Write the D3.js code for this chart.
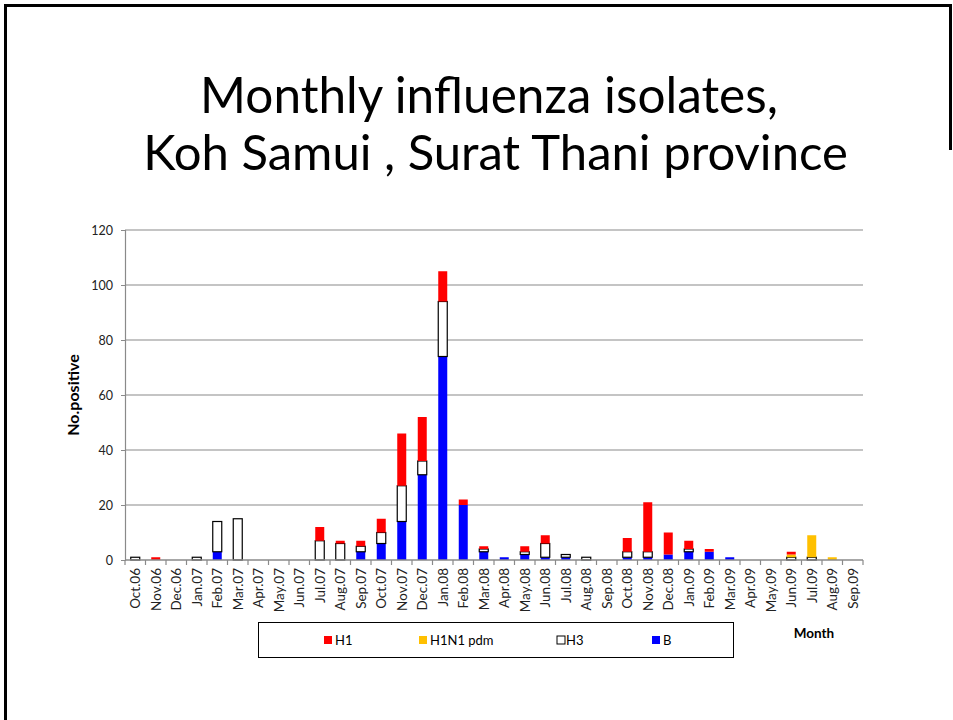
<!DOCTYPE html>
<html><head><meta charset="utf-8">
<script src="https://cdn.jsdelivr.net/npm/d3@7"></script>
<style>
html,body{margin:0;padding:0;background:#fff;}
svg{display:block;}
text{font-family:Lato,"Noto Sans",sans-serif;}
</style></head>
<body>
<svg id="chart" width="953" height="720"></svg>
<script>
const months = ["Oct.06","Nov.06","Dec.06","Jan.07","Feb.07","Mar.07","Apr.07","May.07","Jun.07","Jul.07","Aug.07","Sep.07","Oct.07","Nov.07","Dec.07","Jan.08","Feb.08","Mar.08","Apr.08","May.08","Jun.08","Jul.08","Aug.08","Sep.08","Oct.08","Nov.08","Dec.08","Jan.09","Feb.09","Mar.09","Apr.09","May.09","Jun.09","Jul.09","Aug.09","Sep.09"];
const seriesB   = [0,0,0,0,3,0,0,0,0,0,0,3,6,14,31,74,20,3,1,2,1,1,0,0,1,1,2,3,3,1,0,0,0,0,0,0];
const seriesH3  = [1,0,0,1,11,15,0,0,0,7,6,2,4,13,5,20,0,1,0,1,5,1,1,0,2,2,0,1,0,0,0,0,1,1,0,0];
const seriesPdm = [0,0,0,0,0,0,0,0,0,0,0,0,0,0,0,0,0,0,0,0,0,0,0,0,0,0,0,0,0,0,0,0,1,8,1,0];
const seriesH1  = [0,1,0,0,0,0,0,0,0,5,1,2,5,19,16,11,2,1,0,2,3,0,0,0,5,18,8,3,1,0,0,0,1,0,0,0];
const yTicks = [0,20,40,60,80,100,120];
const titleLines = ["Monthly influenza isolates,", "Koh Samui , Surat Thani province"];
const yLabel = "No.positive";
const xLabel = "Month";
const legendItems = [
  {key:"H1", label:"H1"},
  {key:"pdm", label:"H1N1 pdm"},
  {key:"H3", label:"H3"},
  {key:"B", label:"B"}
];
const colors = {H1:"#FF0000", pdm:"#FFC000", H3:"#FFFFFF", B:"#0000FF"};

(function(){
const svg = d3.select("#chart");

// slide frame
svg.append("line").attr("x1",4).attr("x2",952).attr("y1",5.5).attr("y2",5.5).attr("stroke","#000").attr("stroke-width",3);
svg.append("line").attr("x1",5.5).attr("x2",5.5).attr("y1",4).attr("y2",720).attr("stroke","#000").attr("stroke-width",3);
svg.append("line").attr("x1",950.5).attr("x2",950.5).attr("y1",4).attr("y2",150).attr("stroke","#000").attr("stroke-width",3);

// title
const titleSpecs = [{cx:489, y:113, w:578},{cx:495.5, y:170, w:705}];
titleLines.forEach((t,i)=>{
  const s = titleSpecs[i];
  const el = svg.append("text").attr("x",s.cx).attr("y",s.y).attr("text-anchor","middle")
    .attr("font-size",44).attr("fill","#000").text(t);
  const len = el.node().getComputedTextLength();
  el.attr("font-size", 44*s.w/len);
});

const pLeft=125, pRight=863, pTop=230, pBottom=560;
const x = d3.scaleBand().domain(months).range([pLeft,pRight]).padding(0);
const y = d3.scaleLinear().domain([0,120]).range([pBottom,pTop]);

// grid
svg.append("g").selectAll("line").data(yTicks.filter(d=>d>0)).join("line")
  .attr("x1",pLeft).attr("x2",pRight).attr("y1",d=>y(d)).attr("y2",d=>y(d))
  .attr("stroke","#b0b0b0").attr("stroke-width",1.5);

// y axis
const yAxis = svg.append("g").attr("transform",`translate(${pLeft},0)`)
  .call(d3.axisLeft(y).tickValues(yTicks).tickSize(4).tickPadding(8));
yAxis.select(".domain").attr("stroke","#8a8a8a").attr("stroke-width",1.2);
yAxis.selectAll(".tick line").attr("stroke","#8a8a8a");
yAxis.selectAll("text").attr("font-size",12.5).attr("fill","#222").style("font-family","Lato,'Noto Sans',sans-serif");

// stacked bars
const data = months.map((m,i)=>({month:m, B:seriesB[i], H3:seriesH3[i], pdm:seriesPdm[i], H1:seriesH1[i]}));
const stack = d3.stack().keys(["B","H3","pdm","H1"]);
const layers = stack(data);
const barW = 9;
layers.forEach(layer=>{
  const key = layer.key;
  svg.append("g").selectAll("rect").data(layer.filter(d=>d[1]-d[0]>0)).join("rect")
    .attr("x",d=>x(d.data.month)+x.bandwidth()/2-barW/2)
    .attr("width",barW)
    .attr("y",d=>y(d[1]))
    .attr("height",d=>y(d[0])-y(d[1]))
    .attr("fill",colors[key])
    .attr("stroke",key==="H3"?"#000":"none")
    .attr("stroke-width",key==="H3"?1.2:0);
});

// x axis
const xg = svg.append("g");
xg.append("line").attr("x1",pLeft).attr("x2",pRight).attr("y1",pBottom).attr("y2",pBottom)
  .attr("stroke","#8a8a8a").attr("stroke-width",1.5);
const bounds = months.map(m=>x(m)).concat([pRight]);
xg.selectAll("line.tk").data(bounds).join("line").attr("class","tk")
  .attr("x1",d=>d).attr("x2",d=>d).attr("y1",pBottom).attr("y2",pBottom+5)
  .attr("stroke","#8a8a8a").attr("stroke-width",1.2);
xg.selectAll("text").data(months).join("text")
  .attr("transform",d=>`translate(${x(d)+x.bandwidth()/2},${pBottom+8}) rotate(-90)`)
  .attr("text-anchor","end").attr("dominant-baseline","central")
  .attr("font-size",13.5).attr("fill","#222").text(d=>d);

// y label
svg.append("text").attr("transform","translate(72,395) rotate(-90)")
  .attr("text-anchor","middle").attr("dominant-baseline","central")
  .attr("font-size",16).attr("font-weight","bold").attr("fill","#000").text(yLabel);

// x label
svg.append("text").attr("x",814).attr("y",633).attr("text-anchor","middle").attr("dominant-baseline","central")
  .attr("font-size",13.5).attr("font-weight","bold").attr("fill","#000").text(xLabel);

// legend
svg.append("rect").attr("x",258.5).attr("y",622.5).attr("width",475).attr("height",35)
  .attr("fill","#fff").attr("stroke","#000").attr("stroke-width",1);
const legX = [324, 419, 557, 652];
const lg = svg.append("g").selectAll("g").data(legendItems).join("g")
  .attr("transform",(d,i)=>`translate(${legX[i]},640)`);
lg.append("rect").attr("x",0).attr("y",-4).attr("width",8).attr("height",8)
  .attr("fill",d=>colors[d.key]).attr("stroke",d=>d.key==="H3"?"#000":"none").attr("stroke-width",1);
lg.append("text").attr("x",(d)=>d.key==="H3"?9:11).attr("y",0).attr("dominant-baseline","central")
  .attr("font-size",13).attr("fill","#000").text(d=>d.label);
})();
</script>
</body></html>
